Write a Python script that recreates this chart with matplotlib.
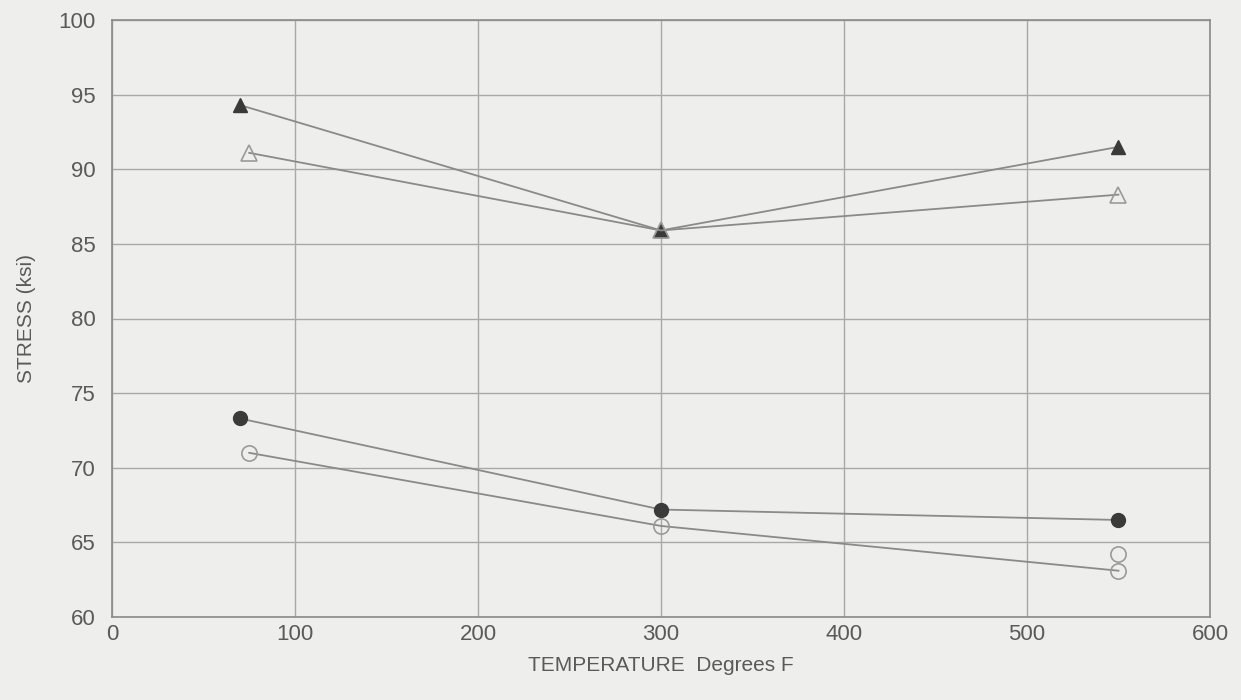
import matplotlib
matplotlib.use("Agg")
import matplotlib.pyplot as plt

plt.rcParams["font.family"] = ["Liberation Sans", "DejaVu Sans"]

# values
temp_filled_tri = [70, 300, 550]
stress_filled_tri = [94.3, 85.9, 91.5]
temp_open_tri = [75, 300, 550]
stress_open_tri = [91.1, 85.9, 88.3]
temp_filled_circ = [70, 300, 550]
stress_filled_circ = [73.3, 67.2, 66.5]
temp_open_circ = [75, 300, 550]
stress_open_circ = [71.0, 66.1, 63.1]
temp_extra_circ = [550]
stress_extra_circ = [64.2]

xticks = [0, 100, 200, 300, 400, 500, 600]
yticks = [60, 65, 70, 75, 80, 85, 90, 95, 100]

bg = "#eeeeec"
line_col = "#8a8a8a"
mark_col = "#3a3a3a"
text_col = "#5a5a5a"

fig = plt.figure(figsize=(12.41, 7.0), dpi=100, facecolor=bg)
ax = fig.add_axes([0.0902, 0.1186, 0.8848, 0.8528], facecolor=bg)

ax.plot(temp_filled_tri, stress_filled_tri, color=line_col, lw=1.3,
        marker="^", ms=10, mfc=mark_col, mec=mark_col)
ax.plot(temp_open_tri, stress_open_tri, color=line_col, lw=1.3,
        marker="^", ms=11, mfc="none", mec="#9a9a9a", mew=1.2)
ax.plot(temp_filled_circ, stress_filled_circ, color=line_col, lw=1.3,
        marker="o", ms=10, mfc=mark_col, mec=mark_col)
ax.plot(temp_open_circ, stress_open_circ, color=line_col, lw=1.3,
        marker="o", ms=11, mfc="none", mec="#9a9a9a", mew=1.2)
ax.plot(temp_extra_circ, stress_extra_circ, ls="none",
        marker="o", ms=11, mfc="none", mec="#9a9a9a", mew=1.2)

ax.set_xlim(0, 600)
ax.set_ylim(60, 100)
ax.set_xticks(xticks)
ax.set_yticks(yticks)
ax.grid(True, color="#a8a8a8", lw=1.0)
ax.set_axisbelow(True)
for s in ax.spines.values():
    s.set_color("#8a8a8a")
    s.set_linewidth(1.2)
ax.tick_params(length=0, labelsize=16, colors=text_col)
ax.tick_params(axis="y", pad=12)
ax.tick_params(axis="x", pad=5)

ax.set_xlabel("TEMPERATURE  Degrees F", fontsize=15, color=text_col, labelpad=8)
ax.set_ylabel("STRESS (ksi)", fontsize=15, color=text_col, labelpad=16)

fig.savefig("out.png", dpi=100, facecolor=bg)
